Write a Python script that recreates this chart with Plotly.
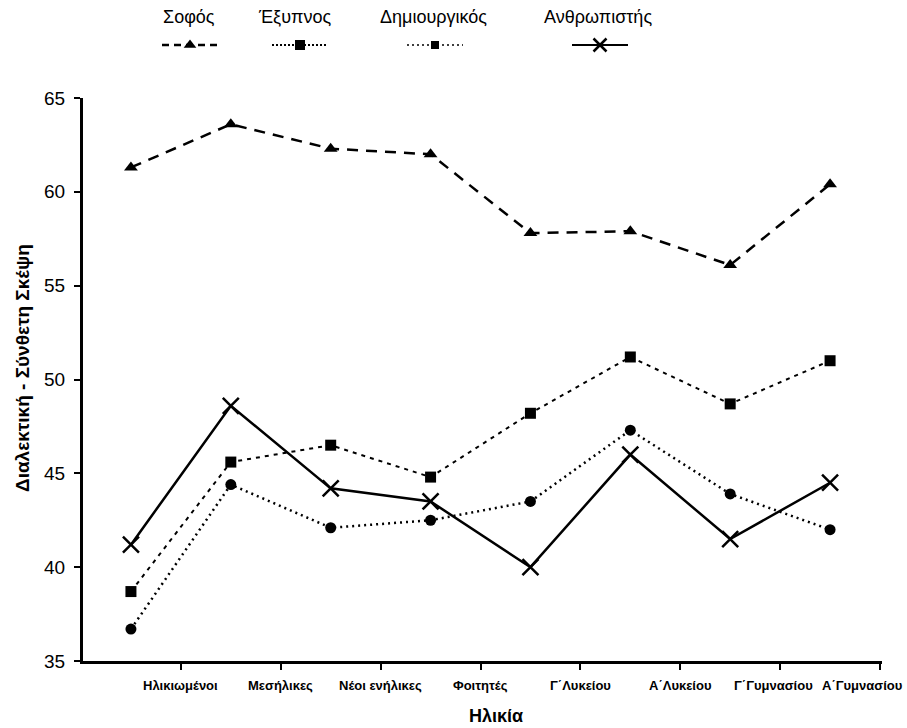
import plotly.graph_objects as go

categories = ["Ηλικιωμένοι", "Μεσήλικες", "Νέοι ενήλικες", "Φοιτητές",
              "Γ΄Λυκείου", "Α΄Λυκείου", "Γ΄Γυμνασίου", "Α΄Γυμνασίου"]
sofos = [61.3, 63.6, 62.3, 62.0, 57.8, 57.9, 56.1, 60.4]
eksypnos = [38.7, 45.6, 46.5, 44.8, 48.2, 51.2, 48.7, 51.0]
dimiourgikos = [36.7, 44.4, 42.1, 42.5, 43.5, 47.3, 43.9, 42.0]
anthropistis = [41.2, 48.6, 44.2, 43.5, 40.0, 46.0, 41.5, 44.5]
series_names = ["Σοφός", "Έξυπνος", "Δημιουργικός", "Ανθρωπιστής"]
y_ticks = [35, 40, 45, 50, 55, 60, 65]

W, H = 907, 728
L, R, T, B = 83, 25, 5, 67
plot_w = W - L - R
plot_h = H - T - B
main_top_px = 98
main_dom_top = (H - B - main_top_px) / plot_h

def px_x(px):
    return (px - L) / plot_w

def px_y(py):
    return (H - B - py) / plot_h

xs = list(range(len(categories)))
tickpos = [i + 0.5 for i in xs]

styles = [
    dict(line=dict(color="black", width=2.5, dash="11px,8px"),
         marker=dict(symbol="triangle-up", size=12, color="black")),
    dict(line=dict(color="black", width=2, dash="4px,5px"),
         marker=dict(symbol="square", size=11, color="black")),
    dict(line=dict(color="black", width=2.5, dash="2px,4px"),
         marker=dict(symbol="circle", size=11, color="black")),
    dict(line=dict(color="black", width=2.5),
         marker=dict(symbol="x-thin", size=16, color="black",
                     line=dict(color="black", width=2.5))),
]
data = [sofos, eksypnos, dimiourgikos, anthropistis]

fig = go.Figure()
for name, vals, st in zip(series_names, data, styles):
    fig.add_trace(go.Scatter(x=xs, y=vals, mode="lines+markers", name=name,
                             line=st["line"], marker=st["marker"],
                             showlegend=False, cliponaxis=False,
                             xaxis="x", yaxis="y"))

# custom legend (text above symbol)
leg_centers = [190, 300, 435, 600]
leg_text_x = [189, 294, 433, 598]
leg_half = 28
leg_styles = [
    dict(color="black", width=2.5, dash="7px,5px"),
    dict(color="black", width=2, dash="2px,2px"),
    dict(color="black", width=1.5, dash="2px,3px"),
    dict(color="black", width=2),
]
leg_markers = [
    dict(symbol="triangle-up", size=11, color="black"),
    dict(symbol="square", size=10, color="black"),
    dict(symbol="square", size=8, color="black"),
    dict(symbol="x-thin", size=13, color="black", line=dict(color="black", width=2.5)),
]
for c, ls, mk in zip(leg_centers, leg_styles, leg_markers):
    fig.add_trace(go.Scatter(x=[c - leg_half, c + leg_half], y=[0.5, 0.5], mode="lines",
                             line=ls, showlegend=False, xaxis="x2", yaxis="y2",
                             hoverinfo="skip"))
    fig.add_trace(go.Scatter(x=[c], y=[0.5], mode="markers", marker=mk,
                             showlegend=False, xaxis="x2", yaxis="y2",
                             hoverinfo="skip"))

annotations = []
for name, tx in zip(series_names, leg_text_x):
    annotations.append(dict(text=name, x=px_x(tx), y=px_y(17),
                            xref="paper", yref="paper", showarrow=False,
                            xanchor="center", yanchor="middle",
                            font=dict(family="Liberation Sans, Arial", size=18, color="black")))
annotations.append(dict(text="<b>Διαλεκτική - Σύνθετη Σκέψη</b>",
                        x=px_x(22), y=px_y(368),
                        xref="paper", yref="paper", showarrow=False, textangle=-90,
                        xanchor="center", yanchor="middle",
                        font=dict(family="Liberation Sans, Arial", size=19, color="black")))
annotations.append(dict(text="<b>Ηλικία</b>",
                        x=px_x(496), y=px_y(716),
                        xref="paper", yref="paper", showarrow=False,
                        xanchor="center", yanchor="middle",
                        font=dict(family="Liberation Sans, Arial", size=18, color="black")))
# category labels placed at the axis tick positions
n = len(categories)
for i, (cat, tp) in enumerate(zip(categories, tickpos)):
    last = i == n - 1
    annotations.append(dict(text="<b>" + cat + "</b>",
                            x=px_x(905) if last else tp, xref="paper" if last else "x",
                            y=px_y(685), yref="paper", showarrow=False,
                            xanchor="right" if last else "center", yanchor="middle",
                            xshift=-7 if i == n - 2 else 0,
                            font=dict(family="Liberation Sans, Arial", size=13, color="black")))

fig.update_layout(
    width=W, height=H,
    margin=dict(l=L, r=R, t=T, b=B, autoexpand=False),
    paper_bgcolor="white", plot_bgcolor="white",
    showlegend=False,
    annotations=annotations,
    xaxis=dict(domain=[0, 1], range=[-0.48, 7.52], tickvals=tickpos, showticklabels=False,
               showgrid=False, zeroline=False, showline=True, linecolor="black", linewidth=3,
               ticks="outside", ticklen=6, tickwidth=2, tickcolor="black", automargin=False,
               anchor="y", fixedrange=True),
    yaxis=dict(domain=[0, main_dom_top], range=[35, 65], tickvals=y_ticks,
               showgrid=False, zeroline=False, showline=True, linecolor="black", linewidth=3,
               ticks="outside", ticklen=6, tickwidth=2, tickcolor="black", automargin=False,
               ticklabelstandoff=5,
               tickfont=dict(family="Liberation Sans, Arial", size=19, color="black"),
               anchor="x", fixedrange=True),
    xaxis2=dict(domain=[0, 1], range=[L, W - R], visible=False, anchor="y2",
                fixedrange=True, automargin=False),
    yaxis2=dict(domain=[px_y(60), px_y(30)], range=[0, 1],
                visible=False, anchor="x2", fixedrange=True, automargin=False),
)

fig.write_html("out.html", config={"displayModeBar": False},
               post_script="document.body.style.margin='0px';")
